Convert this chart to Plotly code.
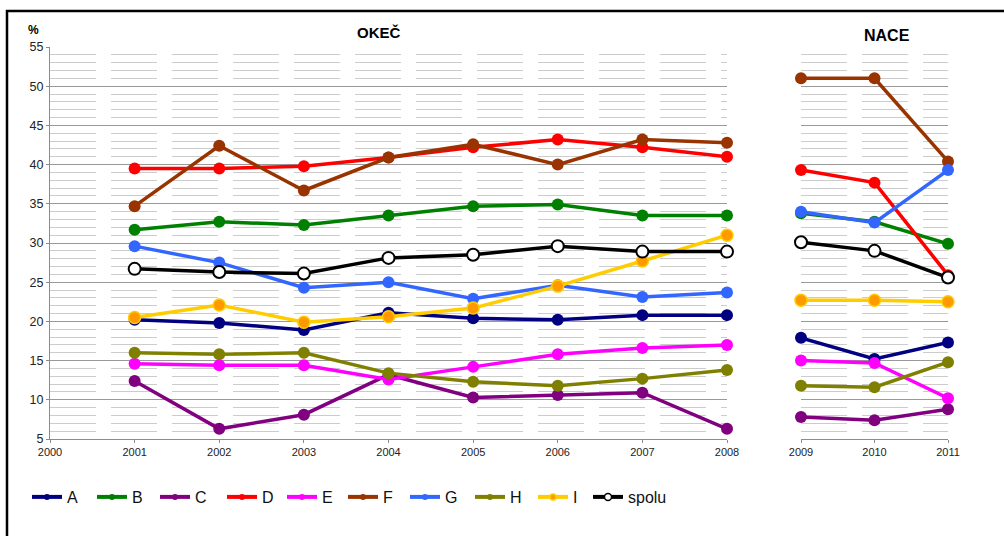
import plotly.graph_objects as go

# ---------------- data ----------------
years_okec = [2001, 2002, 2003, 2004, 2005, 2006, 2007, 2008]
years_nace = [2009, 2010, 2011]

series_names = ["A", "B", "C", "D", "E", "F", "G", "H", "I", "spolu"]

A_okec = [20.2, 19.8, 18.9, 21.1, 20.4, 20.2, 20.8, 20.8]
B_okec = [31.7, 32.7, 32.3, 33.5, 34.7, 34.9, 33.5, 33.5]
C_okec = [12.4, 6.3, 8.1, 13.2, 10.3, 10.6, 10.9, 6.3]
D_okec = [39.5, 39.5, 39.8, 40.9, 42.2, 43.2, 42.2, 41.0]
E_okec = [14.6, 14.4, 14.4, 12.6, 14.2, 15.8, 16.6, 17.0]
F_okec = [34.7, 42.4, 36.7, 40.9, 42.6, 40.0, 43.2, 42.8]
G_okec = [29.6, 27.5, 24.3, 25.0, 22.9, 24.6, 23.1, 23.7]
H_okec = [16.0, 15.8, 16.0, 13.4, 12.3, 11.8, 12.7, 13.8]
I_okec = [20.5, 22.1, 19.9, 20.6, 21.7, 24.5, 27.7, 31.0]
spolu_okec = [26.7, 26.3, 26.1, 28.1, 28.5, 29.6, 28.9, 28.9]

A_nace = [17.9, 15.2, 17.3]
B_nace = [33.8, 32.7, 29.9]
C_nace = [7.8, 7.4, 8.8]
D_nace = [39.3, 37.7, 25.9]
E_nace = [15.0, 14.7, 10.2]
F_nace = [51.0, 51.0, 40.4]
G_nace = [34.0, 32.6, 39.3]
H_nace = [11.8, 11.6, 14.8]
I_nace = [22.7, 22.7, 22.5]
spolu_nace = [30.1, 29.0, 25.6]

y_ticks = [5, 10, 15, 20, 25, 30, 35, 40, 45, 50, 55]
x_ticks_okec = [2000, 2001, 2002, 2003, 2004, 2005, 2006, 2007, 2008]

okec = [A_okec, B_okec, C_okec, D_okec, E_okec, F_okec, G_okec, H_okec, I_okec, spolu_okec]
nace = [A_nace, B_nace, C_nace, D_nace, E_nace, F_nace, G_nace, H_nace, I_nace, spolu_nace]

# ---------------- styles ----------------
line_colors = ["#000080", "#008000", "#800080", "#FF0000", "#FF00FF",
               "#993300", "#3366FF", "#808000", "#FFCC00", "#000000"]
marker_fill = ["#000080", "#008000", "#800080", "#FF0000", "#FF00FF",
               "#993300", "#3366FF", "#808000", "#FF9900", "#FFFFFF"]
marker_edge = ["#000080", "#008000", "#800080", "#FF0000", "#FF00FF",
               "#993300", "#3366FF", "#808000", "#FFCC00", "#000000"]
marker_edge_w = [0, 0, 0, 0, 0, 0, 0, 0, 1.5, 2]
legend_widths = [20, 18, 22, 15, 16, 17, 20, 18, 10, 40]

FONT = "Liberation Sans, Arial, sans-serif"

fig = go.Figure()

for i, name in enumerate(series_names):
    for xs, ys, xa, ya in [(years_okec, okec[i], "x", "y"), (years_nace, nace[i], "x2", "y2")]:
        fig.add_trace(go.Scatter(
            x=xs, y=ys, xaxis=xa, yaxis=ya, mode="lines+markers", name=name,
            showlegend=False, cliponaxis=False,
            line=dict(color=line_colors[i], width=3.5),
            marker=dict(size=12, color=marker_fill[i],
                        line=dict(color=marker_edge[i], width=marker_edge_w[i])),
            hoverinfo="skip",
        ))

# legend entries (small markers as in the original legend)
for i, name in enumerate(series_names):
    fig.add_trace(go.Scatter(
        x=[None], y=[None], mode="lines+markers", name=name, showlegend=True,
        legendwidth=legend_widths[i],
        line=dict(color=line_colors[i], width=4),
        marker=dict(size=7 if i == 9 else 6, color=marker_fill[i],
                    line=dict(color=marker_edge[i], width=1.5 if i >= 8 else 0)),
    ))

W, H = 1004, 536
ml, mr, mt, mb = 50, 56, 47, 97
pw, ph = W - ml - mr, H - mt - mb


def px_x(x):
    return (x - ml) / pw


def px_y(y):
    return 1 - (y - mt) / ph


minor = dict(dtick=1, tick0=5, showgrid=True, gridcolor="#cccccc",
             griddash="46px,15px", gridwidth=1, ticks="")

fig.update_layout(
    width=W, height=H,
    margin=dict(l=ml, r=mr, t=mt, b=mb, autoexpand=False),
    paper_bgcolor="white", plot_bgcolor="white",
    font=dict(family=FONT, color="#222222"),
    xaxis=dict(domain=[0, (727 - ml) / pw], range=[2000, 2008], anchor="y",
               tickvals=x_ticks_okec, ticktext=[str(v) for v in x_ticks_okec],
               showline=True, linecolor="#8c8c8c", linewidth=1,
               ticks="outside", ticklen=3, tickcolor="#8c8c8c",
               showgrid=False, zeroline=False, tickfont=dict(size=11)),
    xaxis2=dict(domain=[(801 - ml) / pw, 1], range=[2009, 2011], anchor="y2",
                tickvals=years_nace, ticktext=[str(v) for v in years_nace],
                showline=True, linecolor="#8c8c8c", linewidth=1,
                ticks="outside", ticklen=3, tickcolor="#8c8c8c",
                showgrid=False, zeroline=False, tickfont=dict(size=11)),
    yaxis=dict(range=[5, 55], anchor="x", tickvals=y_ticks,
               showline=True, linecolor="#8c8c8c", linewidth=1,
               ticks="outside", ticklen=3, tickcolor="#8c8c8c",
               showgrid=True, gridcolor="#999999", gridwidth=1,
               zeroline=False, tickfont=dict(size=12.5), minor=minor),
    yaxis2=dict(range=[5, 55], anchor="x2", matches="y", tickvals=y_ticks,
                showline=False, showticklabels=False, ticks="",
                showgrid=True, gridcolor="#999999", gridwidth=1,
                zeroline=False, minor=minor),
    legend=dict(orientation="h", x=px_x(27), xanchor="left",
                y=px_y(497), yanchor="middle",
                font=dict(size=16, family=FONT, color="#111111"),
                bgcolor="rgba(0,0,0,0)", borderwidth=0, tracegroupgap=0),
    showlegend=True,
    annotations=[
        dict(text="<b>OKEČ</b>", x=px_x(379), y=px_y(33), xref="paper", yref="paper",
             xanchor="center", yanchor="middle",
             showarrow=False, font=dict(size=15, color="#000000")),
        dict(text="<b>NACE</b>", x=px_x(887), y=px_y(36), xref="paper", yref="paper",
             xanchor="center", yanchor="middle",
             showarrow=False, font=dict(size=16, color="#000000")),
        dict(text="<b>%</b>", x=px_x(33), y=px_y(30), xref="paper", yref="paper",
             xanchor="center", yanchor="middle",
             showarrow=False, font=dict(size=12, color="#000000")),
    ],
    shapes=[
        dict(type="rect", xref="paper", yref="paper",
             x0=px_x(7), x1=px_x(1012), y0=px_y(548), y1=px_y(11),
             line=dict(color="#000000", width=2.5), fillcolor="rgba(0,0,0,0)",
             layer="above"),
    ],
)

fig.write_html(
    "out.html",
    config={"displayModeBar": False},
    post_script="document.body.style.margin='0';document.body.style.padding='0';"
                "document.documentElement.style.overflow='hidden';",
)
